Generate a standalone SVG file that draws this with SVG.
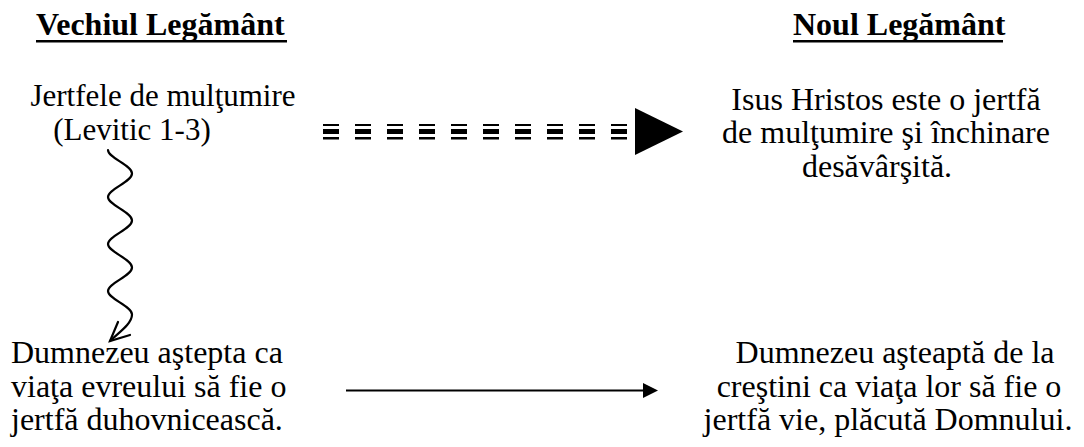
<svg xmlns="http://www.w3.org/2000/svg" width="1084" height="447" viewBox="0 0 1084 447">
  <defs>
    <g id="dash" fill="#000">
      <rect x="0" y="124" width="16" height="2"/>
      <rect x="0" y="129" width="16" height="5"/>
      <rect x="0" y="137" width="16" height="2.5"/>
    </g>
  </defs>
  <rect width="1084" height="447" fill="#fff"/>

  <g id="heading-old">
    <text font-family="Liberation Serif" font-size="32" font-weight="bold" x="36" y="35">Vechiul Legământ</text>
    <rect x="36" y="40" width="251" height="2.5" fill="#000"/>
  </g>
  <g id="heading-new">
    <text font-family="Liberation Serif" font-size="32" font-weight="bold" x="793" y="35">Noul Legământ</text>
    <rect x="793" y="40" width="210" height="2.5" fill="#000"/>
  </g>

  <g id="node-old-sacrifice">
    <text font-family="Liberation Serif" font-size="31" text-anchor="middle" x="163" y="106">Jertfele de mulţumire</text>
    <text font-family="Liberation Serif" font-size="31" text-anchor="middle" x="132" y="140">(Levitic 1-3)</text>
  </g>

  <g id="node-christ">
    <text font-family="Liberation Serif" font-size="32" text-anchor="middle" x="886" y="110">Isus Hristos este o jertfă</text>
    <text font-family="Liberation Serif" font-size="32" text-anchor="middle" x="886" y="143">de mulţumire şi închinare</text>
    <text font-family="Liberation Serif" font-size="32" text-anchor="middle" x="877" y="177">desăvârşită.</text>
  </g>

  <g id="node-old-life">
    <text font-family="Liberation Serif" font-size="32" x="11" y="363">Dumnezeu aştepta ca</text>
    <text font-family="Liberation Serif" font-size="32" x="11" y="397">viaţa evreului să fie o</text>
    <text font-family="Liberation Serif" font-size="32" x="11" y="430">jertfă duhovnicească.</text>
  </g>

  <g id="node-new-life">
    <text font-family="Liberation Serif" font-size="32" text-anchor="middle" x="895" y="363">Dumnezeu aşteaptă de la</text>
    <text font-family="Liberation Serif" font-size="32" text-anchor="middle" x="889" y="397">creştini ca viaţa lor să fie o</text>
    <text font-family="Liberation Serif" font-size="32" text-anchor="middle" x="888" y="430">jertfă vie, plăcută Domnului.</text>
  </g>

  <g id="connectors">
    <g id="dashed-arrow">
      <use href="#dash" x="323"/>
      <use href="#dash" x="355"/>
      <use href="#dash" x="387"/>
      <use href="#dash" x="419"/>
      <use href="#dash" x="451"/>
      <use href="#dash" x="483"/>
      <use href="#dash" x="515"/>
      <use href="#dash" x="547"/>
      <use href="#dash" x="579"/>
      <use href="#dash" x="611"/>
      <polygon points="635,108 683,131.5 635,155" fill="#000"/>
    </g>
    <g id="wavy-arrow" fill="none" stroke="#000" stroke-width="2.2" stroke-linecap="round">
      <path d="M108,150 C108,158 132,165 132,173.5 C132,182 108,189 108,197 C108,205 132,212 132,220.5 C132,229 108,236 108,244 C108,252 132,259 132,267.5 C132,276 108,283 108,291 C108,299 132,306 132,314.5 C132,324 118,333 110,341"/>
      <path d="M118,322 L110,341 L130,335"/>
    </g>
    <g id="straight-arrow">
      <line x1="346" y1="390.5" x2="645" y2="390.5" stroke="#000" stroke-width="2"/>
      <polygon points="643,383 658,390.5 643,398" fill="#000"/>
    </g>
  </g>
</svg>
